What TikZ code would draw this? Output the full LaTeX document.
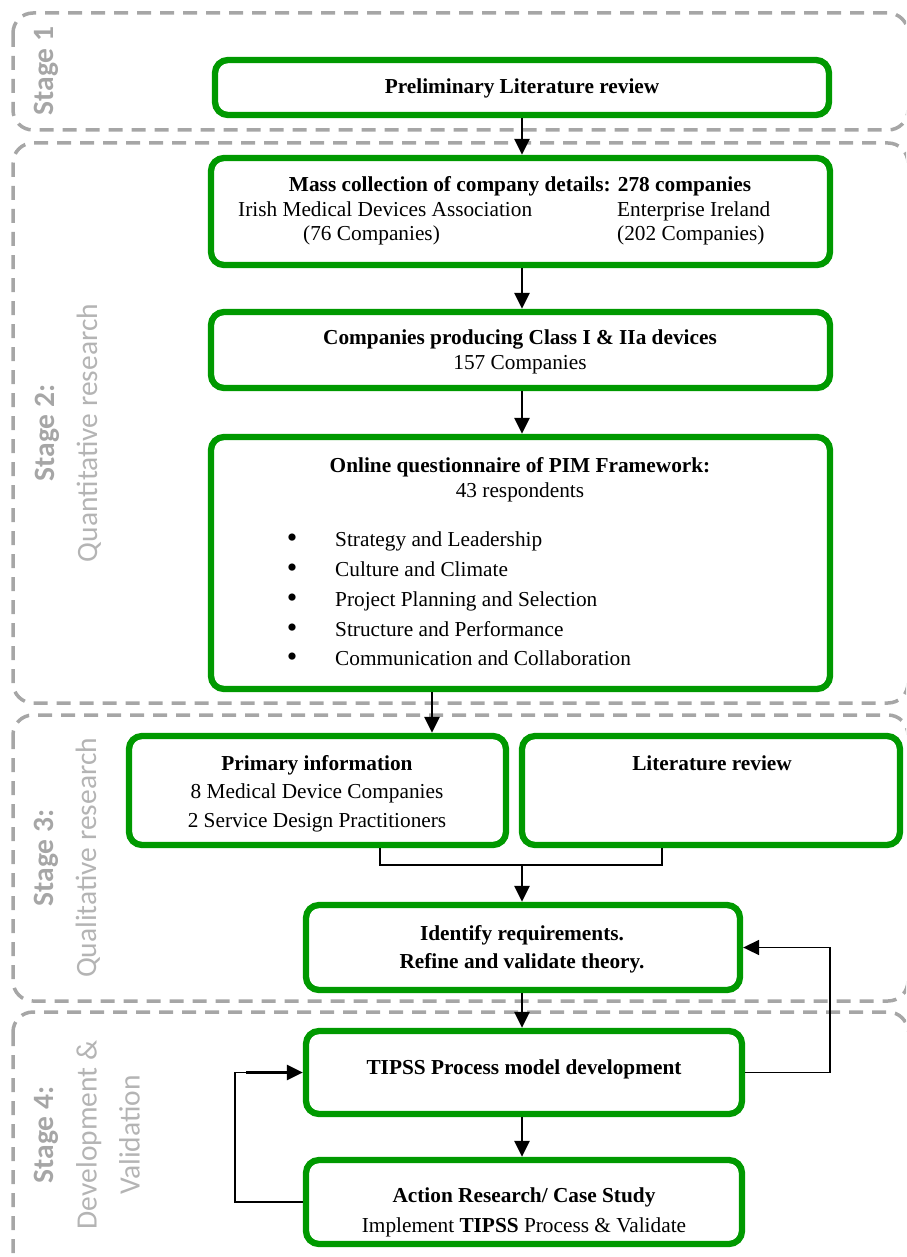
\documentclass[tikz,border=0pt]{standalone}
\usepackage{fontspec}
\setmainfont{Liberation Serif}
\newfontfamily\stagefont{Carlito}
\usetikzlibrary{arrows.meta}
\definecolor{boxgreen}{RGB}{0,153,0}
\definecolor{framegray}{RGB}{166,166,166}
\definecolor{labelgray}{RGB}{166,166,166}
\definecolor{lightlabel}{RGB}{180,180,180}

\begin{document}
\begin{tikzpicture}[x=1pt,y=-1pt,
  stageframe/.style={draw=framegray, line width=3.5pt, dash pattern=on 14pt off 9pt, rounded corners=20pt},
  stagelabel/.style={rotate=90, text=labelgray, align=center, inner sep=0pt,
    font=\stagefont\fontsize{29.5}{43}\selectfont},
  box/.style={draw=boxgreen, line width=6.3pt, rounded corners=13pt, inner sep=0pt},
  txt/.style={inner sep=0pt, font=\fontsize{21.3}{25}\selectfont, text height=15pt, text depth=4.5pt},
  bullet/.style={inner sep=0pt, font=\fontsize{30}{30}\selectfont},
  flow/.style={line width=2.4pt, -{Triangle[length=16pt,width=15pt]}},
  link/.style={line width=1.7pt},
  loopflow/.style={link, -{Triangle[length=16pt,width=15pt]}},
]
\path[use as bounding box] (0,0) rectangle (906,1257);
\clip (0,0) rectangle (906,1257);

% stage frames
\draw[stageframe] (13,13) rectangle (908,130);
\draw[stageframe] (13,143) rectangle (908,703);
\draw[stageframe] (13,715) rectangle (908,1001);
\draw[stageframe] (13,1012) rectangle (908,1278);

% stage labels
\node[stagelabel] (s1) at (46,71) {\bfseries Stage 1};
\node[stagelabel] (s2) at (68,433) {\bfseries Stage 2:\\ \color{lightlabel}Quantitative research};
\node[stagelabel] (s3) at (67,858) {\bfseries Stage 3:\\ \color{lightlabel}Qualitative research};
\node[stagelabel] (s4) at (87,1135) {\bfseries Stage 4:\\ \color{lightlabel}Development \&\\ \color{lightlabel}Validation};

% process boxes
\node[box, minimum width=614pt, minimum height=55pt]  (b1) at (522,87.5) {};
\node[box, minimum width=619pt, minimum height=107pt] (b2) at (520.5,211.5) {};
\node[box, minimum width=619pt, minimum height=76pt]  (b3) at (520.5,350) {};
\node[box, minimum width=619pt, minimum height=252pt] (b4) at (520.5,563) {};
\node[box, minimum width=377pt, minimum height=109pt] (b5) at (317.5,790.5) {};
\node[box, minimum width=378pt, minimum height=109pt] (b6) at (711,790.5) {};
\node[box, minimum width=434pt, minimum height=85pt]  (b7) at (523,947.5) {};
\node[box, minimum width=436pt, minimum height=83pt]  (b8) at (524,1072.5) {};
\node[box, minimum width=436pt, minimum height=84pt]  (b9) at (524,1202) {};

% box texts
\node[txt] (t1) at (522,88) {\textbf{Preliminary Literature review}};

\node[txt] (t2a) at (520,186) {\textbf{Mass collection of company details: 278 companies}};
\node[txt, anchor=west] (t2b) at (238,211) {Irish Medical Devices Association};
\node[txt, anchor=west] (t2c) at (303,235) {(76 Companies)};
\node[txt, anchor=west] (t2d) at (617,211) {Enterprise Ireland};
\node[txt, anchor=west] (t2e) at (617,235) {(202 Companies)};

\node[txt] (t3a) at (520,339) {\textbf{Companies producing Class I \& IIa devices}};
\node[txt] (t3b) at (520,364) {157 Companies};

\node[txt] (t4a) at (520,467) {\textbf{Online questionnaire of PIM Framework:}};
\node[txt] (t4b) at (520,492) {43 respondents};
\foreach \name/\y/\item in {i1/541/Strategy and Leadership, i2/571/Culture and Climate,
    i3/601/Project Planning and Selection, i4/631/Structure and Performance,
    i5/660/Communication and Collaboration} {
  \node[bullet] (\name b) at (292,\y) {•};
  \node[txt, anchor=west] (\name) at (335,\y) {\item};
}

\node[txt] (t5a) at (317,765) {\textbf{Primary information}};
\node[txt] (t5b) at (317,793) {8 Medical Device Companies};
\node[txt] (t5c) at (317,822) {2 Service Design Practitioners};

\node[txt] (t6) at (712,765) {\textbf{Literature review}};

\node[txt] (t7a) at (522,935) {\textbf{Identify requirements.}};
\node[txt] (t7b) at (522,963) {\textbf{Refine and validate theory.}};

\node[txt] (t8) at (524,1069) {\textbf{TIPSS Process model development}};

\node[txt] (t9a) at (524,1197) {\textbf{Action Research/ Case Study}};
\node[txt] (t9b) at (524,1227) {Implement \textbf{TIPSS} Process \& Validate};

% main flow
\draw[flow] (b1.south) -- (b1.south |- b2.north);
\draw[flow] (b2.south -| b1.south) -- (b1.south |- b3.north);
\draw[flow] (b3.south -| b1.south) -- (b1.south |- b4.north);

\coordinate (m45) at (432,0);
\draw[flow] (b4.south -| m45) -- (b5.north -| m45);

% merge of the two stage 3 sources
\coordinate (j5) at (380,865);
\coordinate (j6) at (662,865);
\coordinate (j7) at (522,865);
\draw[link] (b5.south -| j5) -- (j5) -- (j6) -- (b6.south -| j6);
\draw[flow] (j7) -- (b7.north -| j7);

\draw[flow] (b7.south -| j7) -- (b8.north -| j7);
\draw[flow] (b8.south -| j7) -- (b9.north -| j7);

% feedback from model development back to requirements
\coordinate (r8) at (830,0);
\draw[loopflow] (b8.east) -- (b8.east -| r8) -- (b7.east -| r8) -- (b7.east);

% feedback from action research back to model development
\coordinate (l9) at (235,0);
\coordinate (l8) at (246,0);
\draw[link] (b9.west) -- (b9.west -| l9) -- (b8.west -| l9) -- (b8.west -| l8);
\draw[flow] (b8.west -| l8) -- (b8.west);
\end{tikzpicture}
\end{document}
